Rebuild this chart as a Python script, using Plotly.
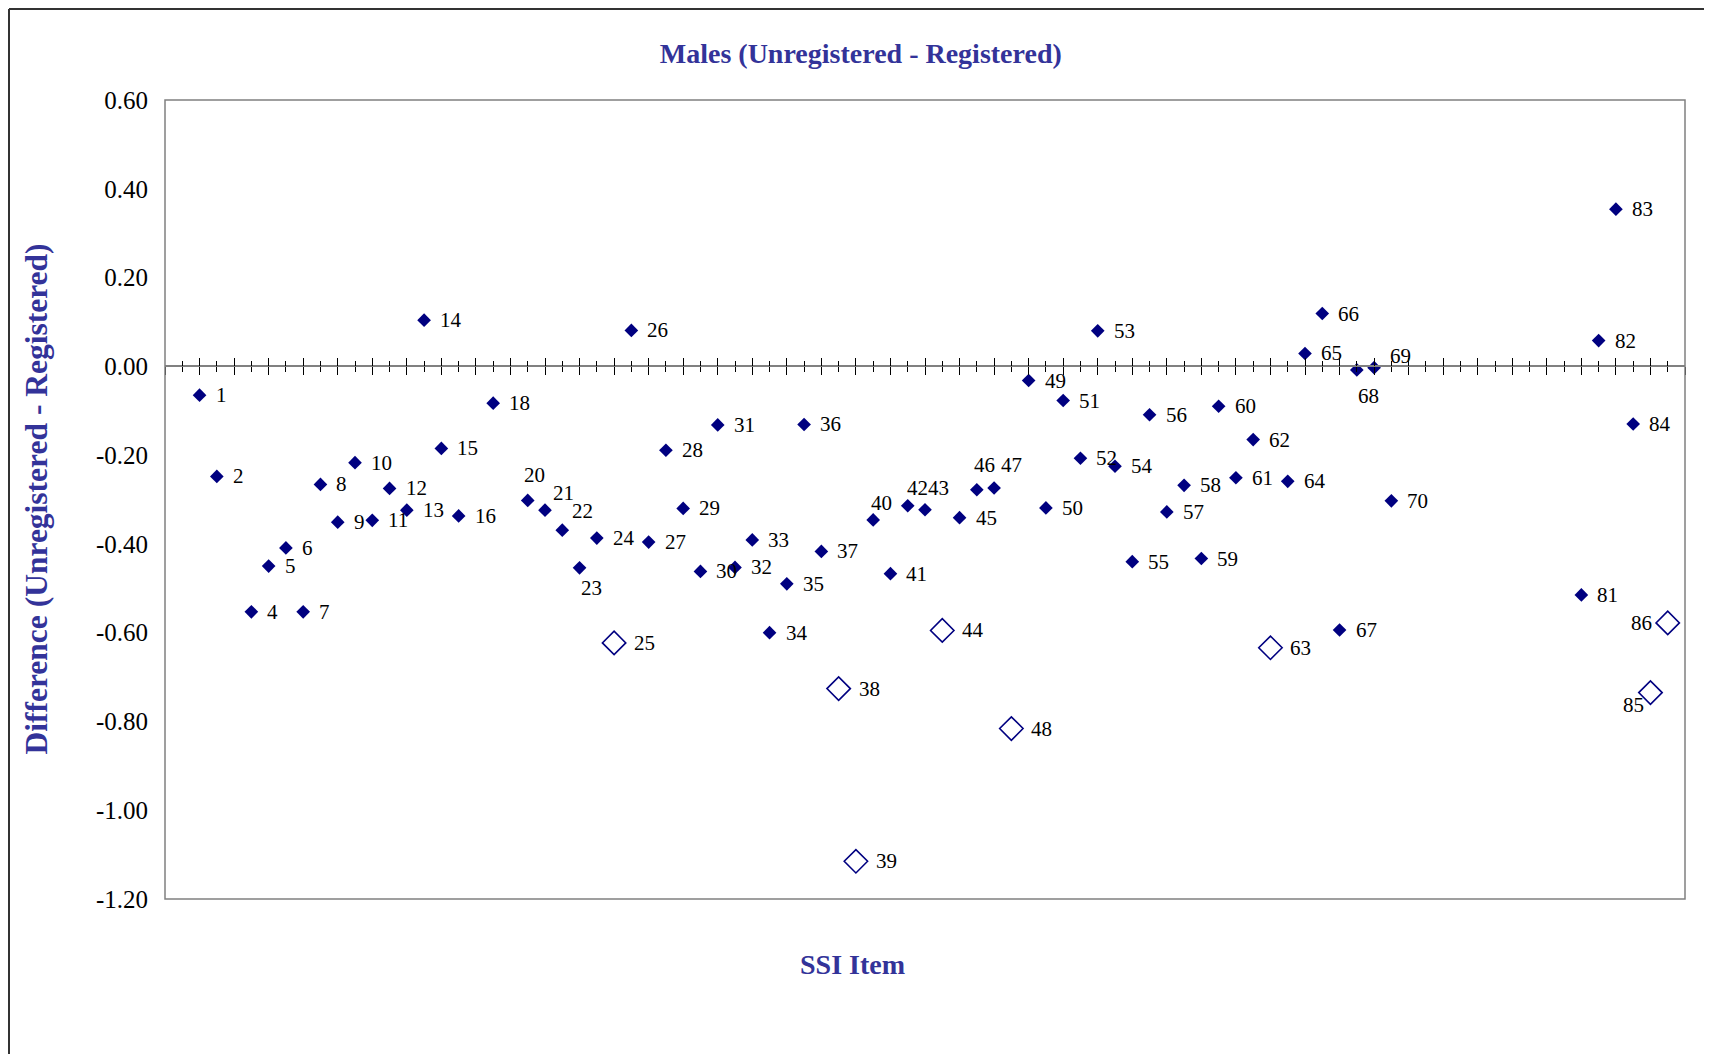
import plotly.graph_objects as go

# ---------------- data ----------------
filled_items = [1, 2, 4, 5, 6, 7, 8, 9, 10, 11, 12, 13, 14, 15, 16, 18, 20, 21, 22, 23,
                24, 26, 27, 28, 29, 30, 31, 32, 33, 34, 35, 36, 37, 40, 41, 42, 43, 45,
                46, 47, 49, 50, 51, 52, 53, 54, 55, 56, 57, 58, 59, 60, 61, 62, 64, 65,
                66, 67, 68, 69, 70, 81, 82, 83, 84]
filled_values = [-0.065, -0.248, -0.553, -0.450, -0.409, -0.553, -0.266, -0.351, -0.217,
                 -0.347, -0.275, -0.324, 0.104, -0.185, -0.337, -0.083, -0.302, -0.324,
                 -0.369, -0.454, -0.387, 0.081, -0.396, -0.189, -0.320, -0.462, -0.132,
                 -0.453, -0.391, -0.600, -0.490, -0.131, -0.417, -0.346, -0.467, -0.314,
                 -0.323, -0.341, -0.278, -0.274, -0.032, -0.319, -0.077, -0.207, 0.080,
                 -0.225, -0.440, -0.109, -0.328, -0.268, -0.433, -0.090, -0.251, -0.165,
                 -0.259, 0.029, 0.119, -0.594, -0.008, -0.003, -0.303, -0.515, 0.058,
                 0.354, -0.130]

open_items = [25, 38, 39, 44, 48, 63, 85, 86]
open_values = [-0.623, -0.726, -1.115, -0.595, -0.816, -0.634, -0.735, -0.578]

y_tick_values = [0.6, 0.4, 0.2, 0.0, -0.2, -0.4, -0.6, -0.8, -1.0, -1.2]
y_tick_labels = ["0.60", "0.40", "0.20", "0.00", "-0.20", "-0.40", "-0.60", "-0.80",
                 "-1.00", "-1.20"]
x_major_ticks = list(range(-1, 88, 2))
x_minor_ticks = list(range(0, 88, 2))

title_text = "Males (Unregistered - Registered)"
y_title = "Difference (Unregistered - Registered)"
x_title = "SSI Item"

# ---------------- label placement (style only) ----------------
# item -> (xanchor, xshift px, yshift px)
label_offsets = {20: ("center", 7, 25), 21: ("center", 18, 17), 22: ("center", 20, 19),
                 23: ("center", 12, -20), 40: ("center", 8, 17), 42: ("center", 10, 18),
                 43: ("center", 13, 22), 46: ("center", 8, 25), 47: ("center", 17, 23),
                 68: ("center", 12, -26), 69: ("left", 14, 12),
                 85: ("center", -17, -12), 86: ("right", -14, 0)}

SERIF = "Liberation Serif"
NAVY = "#000080"
TITLE_BLUE = "#333399"
LABEL_SIZE = 21

FIG_W, FIG_H = 1704, 1046      # page body has an 8px margin
M_L, M_R, M_T, M_B = 157, 27, 92, 155
PLOT_W = FIG_W - M_L - M_R     # 1520
PLOT_H = FIG_H - M_T - M_B     # 799
OFF = 8                        # page offset of the figure

def px_to_paper_x(page_x):
    return (page_x - OFF - M_L) / PLOT_W

def px_to_paper_y(page_y):
    return (OFF + M_T + PLOT_H - page_y) / PLOT_H

fig = go.Figure()
fig.add_trace(go.Scatter(
    x=filled_items, y=filled_values, mode="markers",
    marker=dict(symbol="diamond", size=10.5, color=NAVY, line=dict(width=0)),
    showlegend=False, cliponaxis=False))
fig.add_trace(go.Scatter(
    x=open_items, y=open_values, mode="markers",
    marker=dict(symbol="diamond", size=18, color="white", line=dict(width=1.6, color=NAVY)),
    showlegend=False, cliponaxis=False))
fig.add_trace(go.Scatter(x=[None], y=[None], xaxis="x2", mode="markers",
                         showlegend=False, hoverinfo="skip"))

annotations = []
for items, values, default_shift in ((filled_items, filled_values, 14),
                                     (open_items, open_values, 18)):
    for it, val in zip(items, values):
        xa, xs, ys = label_offsets.get(it, ("left", default_shift, 0))
        annotations.append(dict(x=it, y=val, xref="x", yref="y", text=str(it),
                                showarrow=False, xanchor=xa, yanchor="middle",
                                xshift=xs, yshift=ys,
                                font=dict(family=SERIF, size=LABEL_SIZE, color="black")))

annotations += [
    dict(text=y_title, textangle=-90, x=px_to_paper_x(36), y=0.5, xref="paper",
         yref="paper", xanchor="center", yanchor="middle", showarrow=False,
         font=dict(family=SERIF, size=31.5, color=TITLE_BLUE, weight="bold")),
    dict(text=x_title, x=px_to_paper_x(852), y=px_to_paper_y(964), xref="paper",
         yref="paper", xanchor="center", yanchor="middle", showarrow=False,
         font=dict(family=SERIF, size=28, color=TITLE_BLUE, weight="bold")),
]

zero_pos = 1.2 / 1.8
common_x = dict(range=[-1, 87], anchor="free", position=zero_pos, showgrid=False,
                zeroline=False, showticklabels=False, tickvals=x_major_ticks,
                tickcolor="black", tickwidth=1.4, ticklen=8)

fig.update_layout(
    width=FIG_W, height=FIG_H,
    margin=dict(l=M_L, r=M_R, t=M_T, b=M_B, pad=0),
    paper_bgcolor="white", plot_bgcolor="white",
    xaxis=dict(**common_x, ticks="outside", showline=True, linecolor="#808080", linewidth=2,
               minor=dict(tickvals=x_minor_ticks, ticks="outside", ticklen=5,
                          tickcolor="black", tickwidth=1.2)),
    xaxis2=dict(**common_x, ticks="inside", overlaying="x", showline=False,
                minor=dict(tickvals=x_minor_ticks, ticks="inside", ticklen=5,
                           tickcolor="black", tickwidth=1.2)),
    yaxis=dict(range=[-1.2, 0.6], tickvals=y_tick_values, ticktext=y_tick_labels,
               showgrid=False, zeroline=False, showline=False, ticks="",
               ticklabelstandoff=16,
               tickfont=dict(family=SERIF, size=25, color="black")),
    title=dict(text=title_text, x=(860.8 - OFF) / FIG_W, xref="container",
               xanchor="center", y=1 - (53 - OFF) / FIG_H, yref="container",
               yanchor="middle",
               font=dict(family=SERIF, size=28, color=TITLE_BLUE, weight="bold")),
    annotations=annotations,
    shapes=[
        dict(type="rect", xref="paper", yref="paper", x0=0, x1=1, y0=0, y1=1,
             line=dict(color="#808080", width=1.5), layer="above"),
        dict(type="line", xref="paper", yref="paper", x0=px_to_paper_x(9),
             x1=px_to_paper_x(9), y0=-0.3, y1=px_to_paper_y(9),
             line=dict(color="#333333", width=2)),
        dict(type="line", xref="paper", yref="paper", x0=px_to_paper_x(9), x1=1.1,
             y0=px_to_paper_y(9), y1=px_to_paper_y(9),
             line=dict(color="#333333", width=2)),
    ],
)

fig.write_html("out.html")
